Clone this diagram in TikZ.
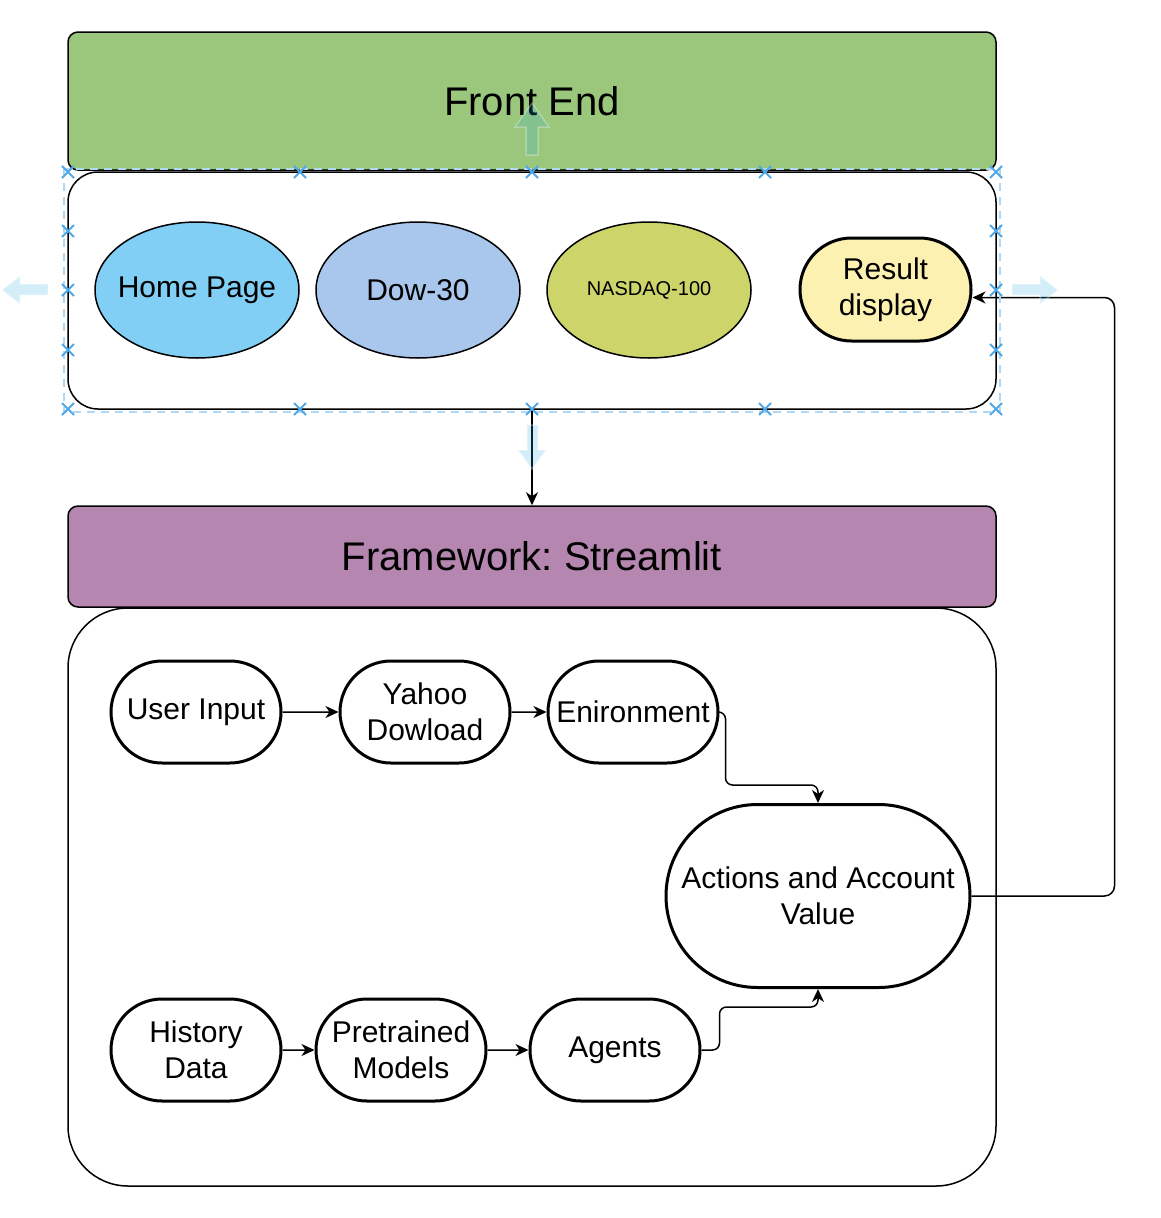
\documentclass[tikz,border=0pt]{standalone}
\usepackage{fontspec}
\setmainfont{Liberation Sans}
\usetikzlibrary{
	arrows.meta,
	positioning,
	shapes.geometric,
	shapes.misc
}
\frenchspacing

\definecolor{FrontGreen}{HTML}{9AC77B}
\definecolor{FramePurple}{HTML}{B587B0}
\definecolor{HomeBlue}{HTML}{81CFF5}
\definecolor{DowBlue}{HTML}{A9C7ED}
\definecolor{NasdaqOlive}{HTML}{CDD46A}
\definecolor{ResultYellow}{HTML}{FCF1B0}
\definecolor{SelBlue}{HTML}{4FA8E8}
\definecolor{HoverBlue}{HTML}{29ABE2}

\newcommand{\TitleSize}{\fontsize{40}{48}\selectfont}
\newcommand{\NodeSize}{\fontsize{30}{36}\selectfont}
\newcommand{\SmallSize}{\fontsize{20}{24}\selectfont}

\begin{document}
\begin{tikzpicture}[
			x=1pt, y=-1pt,
			node distance = 0pt,
			PanelStyle/.style={draw, line width=1.5pt, minimum width=928pt, inner sep=0pt, rounded corners=#1},
			PanelStyle/.default=10pt,
			PageStyle/.style={draw, ellipse, line width=1.5pt, minimum width=204pt, minimum height=136pt, inner sep=0pt, font=\NodeSize},
			StepStyle/.style={draw, rounded rectangle, line width=3pt, minimum width=170pt, minimum height=102pt, inner sep=0pt, align=center, font=\NodeSize},
			Conn/.style={line width=1.5pt, -{Stealth[length=13pt, width=12pt, inset=4pt]}},
			SelMark/.style={draw=SelBlue, line width=1.8pt},
			Hover/.style={fill=HoverBlue, fill opacity=0.2, draw=white, draw opacity=0.3, line width=1.5pt}]
	\useasboundingbox (0,0) rectangle (1160,1218);
	% front end
	\node [PanelStyle, fill=FrontGreen, minimum height=138pt, font=\TitleSize] (frontend) at (532,101) {Front End};
	\node [PanelStyle=30pt, minimum height=237pt] (frontpanel) at (532,290.5) {};
	\node [PageStyle, fill=HomeBlue] (homepage) at (197,290) {\makebox[0pt]{Home Page}};
	\node [PageStyle, fill=DowBlue, right=15.5pt of homepage] (dow) {\makebox[0pt]{Dow-30}};
	\node [PageStyle, fill=NasdaqOlive, right=25.5pt of dow, font=\SmallSize] (nasdaq) {\makebox[0pt]{NASDAQ-100}};
	\node [StepStyle, fill=ResultYellow, minimum width=171pt, minimum height=103pt] (result) at (885.5,289.5) {Result\\display};
	% framework
	\node [PanelStyle, fill=FramePurple, minimum height=101pt, font=\TitleSize] (framework) at (532,556.5) {Framework: Streamlit};
	\node [PanelStyle=60pt, minimum height=578pt] (backpanel) at (532,897) {};
	\node [StepStyle] (userinput) at (196,712) {User Input};
	\node [StepStyle, right=56pt of userinput] (yahoo) {Yahoo\\Dowload};
	\node [StepStyle, right=35pt of yahoo] (env) {Enironment};
	\node [StepStyle, minimum width=304pt, minimum height=183pt] (aav) at (818,896) {Actions and Account\\Value};
	\node [StepStyle, below=233pt of userinput] (history) {History\\Data};
	\node [StepStyle, right=32pt of history] (pretrained) {Pretrained\\Models};
	\node [StepStyle, right=41pt of pretrained] (agents) {Agents};
	% connectors
	\draw [Conn] (frontpanel.south) -- (framework.north);
	\draw [Conn] (userinput) -- (yahoo);
	\draw [Conn] (yahoo) -- (env);
	\draw [Conn] (history) -- (pretrained);
	\draw [Conn] (pretrained) -- (agents);
	\draw [Conn, rounded corners=7pt] (env.east) -- ++(6,0) -- ++(0,73) -| (aav.north);
	\draw [Conn, rounded corners=7pt] (agents.east) -- ++(18,0) -- ++(0,-43) -| (aav.south);
	\draw [Conn, rounded corners=10pt] (aav.east) -- ++(143,0) |- ([yshift=-8pt]result.east);
	% selection marks
	\draw [draw=SelBlue!45, line width=1.5pt, dash pattern=on 8pt off 6pt] (64,169) rectangle (1000,412);
	\foreach \x in {68,300,532,765,996} {
		\draw [SelMark] (\x,172) +(-6,-6) -- +(6,6) +(-6,6) -- +(6,-6);
		\draw [SelMark] (\x,409) +(-6,-6) -- +(6,6) +(-6,6) -- +(6,-6);
	}
	\foreach \y in {231,290,350} {
		\draw [SelMark] (68,\y) +(-6,-6) -- +(6,6) +(-6,6) -- +(6,-6);
		\draw [SelMark] (996,\y) +(-6,-6) -- +(6,6) +(-6,6) -- +(6,-6);
	}
	% hover arrows
	\filldraw [Hover] (526,155) -- (538,155) -- (538,127) -- (549,127) -- (532,103) -- (515,127) -- (526,127) -- cycle;
	\filldraw [Hover] (527,425) -- (538,425) -- (538,450) -- (546,450) -- (532,469) -- (518,450) -- (527,450) -- cycle;
	\filldraw [Hover] (48,284) -- (48,295) -- (20,295) -- (20,304) -- (2,290) -- (20,276) -- (20,284) -- cycle;
	\filldraw [Hover] (1012,284) -- (1012,295) -- (1040,295) -- (1040,304) -- (1058,290) -- (1040,276) -- (1040,284) -- cycle;
\end{tikzpicture}
\end{document}
